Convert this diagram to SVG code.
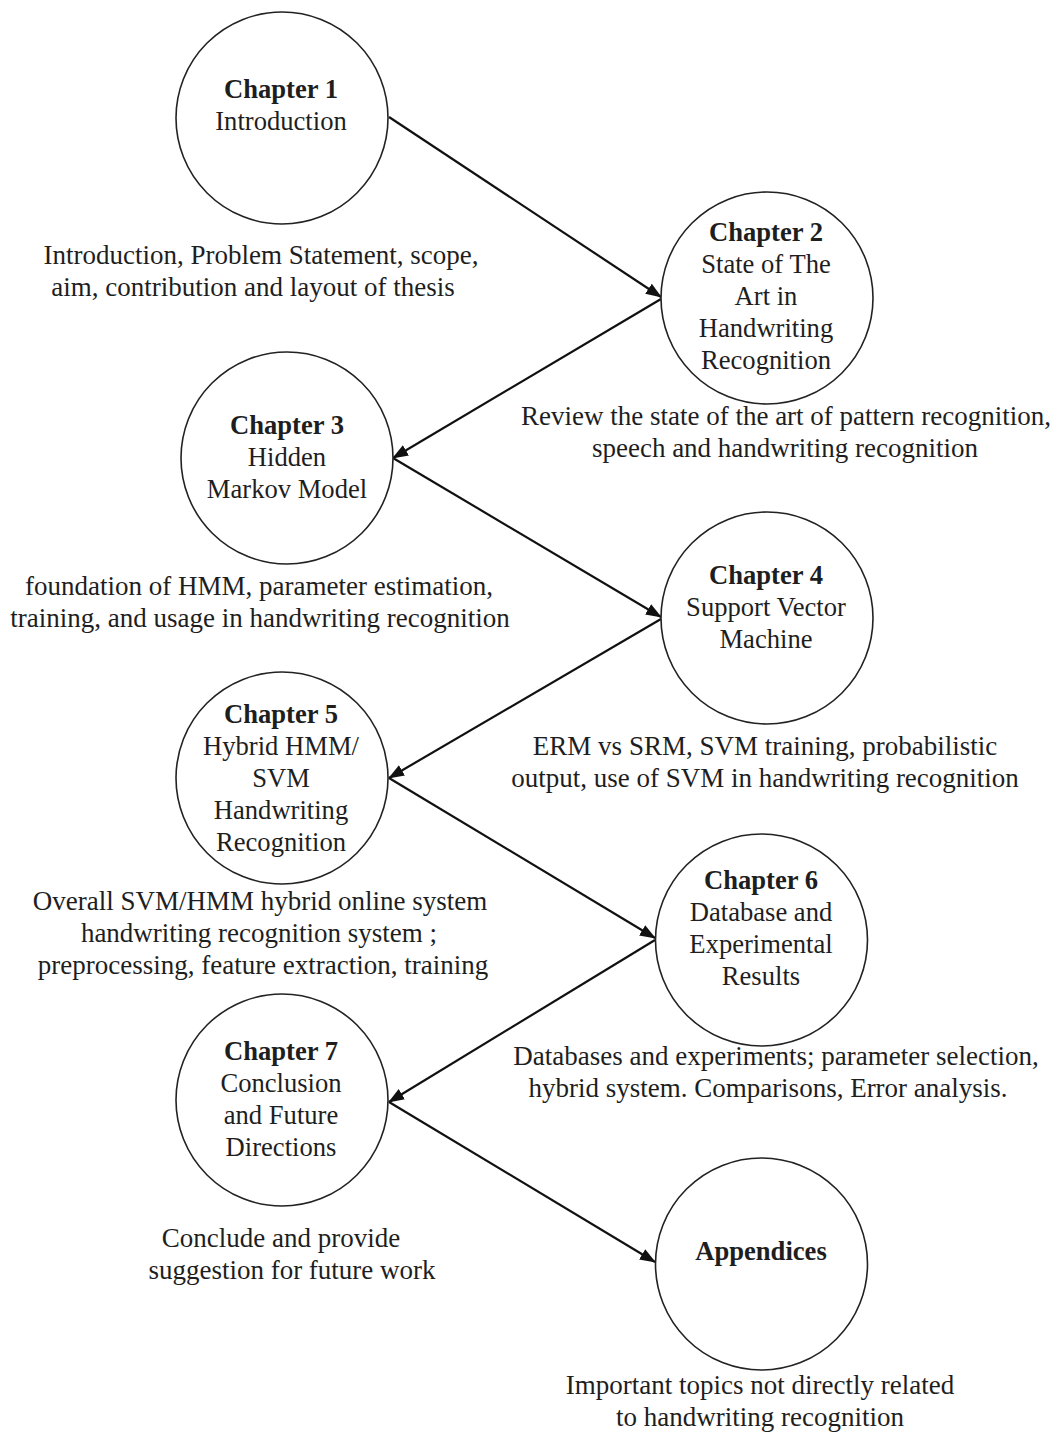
<svg xmlns="http://www.w3.org/2000/svg" width="1058" height="1432" viewBox="0 0 1058 1432">
<style>
.n{fill:#fff;stroke:#222;stroke-width:1.6}
text{font-family:"Liberation Serif","Times New Roman",serif;font-size:26.6px;fill:#1e1e1e;text-anchor:middle}
.b{font-weight:bold}
.d{font-size:27px}
.c{stroke:#111;stroke-width:2.2;fill:none;marker-end:url(#ah)}
</style>
<defs>
<marker id="ah" markerWidth="16" markerHeight="12" refX="15" refY="6" orient="auto" markerUnits="userSpaceOnUse">
<path d="M0,0 L16,6 L0,12 Z" fill="#111"/>
</marker>
</defs>
<rect width="1058" height="1432" fill="#fff"/>
<g id="connectors">
<line class="c" x1="389" y1="117" x2="661" y2="297"/>
<line class="c" x1="661" y1="299" x2="393" y2="458"/>
<line class="c" x1="393" y1="458" x2="661" y2="617"/>
<line class="c" x1="661" y1="619" x2="389" y2="778"/>
<line class="c" x1="389" y1="778" x2="655" y2="938"/>
<line class="c" x1="655" y1="940" x2="389" y2="1102"/>
<line class="c" x1="389" y1="1102" x2="655" y2="1262"/>
</g>
<g id="ch1">
<circle class="n" cx="282" cy="118" r="106"/>
<text class="b" x="281" y="98">Chapter 1</text>
<text x="281" y="130">Introduction</text>
<text class="d" x="261" y="264">Introduction, Problem Statement, scope,</text>
<text class="d" x="253" y="296">aim, contribution and layout of thesis</text>
</g>
<g id="ch2">
<circle class="n" cx="767" cy="298" r="106"/>
<text class="b" x="766" y="241">Chapter 2</text>
<text x="766" y="273">State of The</text>
<text x="766" y="305">Art in</text>
<text x="766" y="337">Handwriting</text>
<text x="766" y="369">Recognition</text>
<text class="d" x="786" y="425">Review the state of the art of pattern recognition,</text>
<text class="d" x="785" y="457">speech and handwriting recognition</text>
</g>
<g id="ch3">
<circle class="n" cx="287" cy="458" r="106"/>
<text class="b" x="287" y="434">Chapter 3</text>
<text x="287" y="466">Hidden</text>
<text x="287" y="498">Markov Model</text>
<text class="d" x="259" y="595">foundation of HMM, parameter estimation,</text>
<text class="d" x="260" y="627">training, and usage in handwriting recognition</text>
</g>
<g id="ch4">
<circle class="n" cx="767" cy="618" r="106"/>
<text class="b" x="766" y="584">Chapter 4</text>
<text x="766" y="616">Support Vector</text>
<text x="766" y="648">Machine</text>
<text class="d" x="765" y="755">ERM vs SRM, SVM training, probabilistic</text>
<text class="d" x="765" y="787">output, use of SVM in handwriting recognition</text>
</g>
<g id="ch5">
<circle class="n" cx="282" cy="778" r="106"/>
<text class="b" x="281" y="723">Chapter 5</text>
<text x="281" y="755">Hybrid HMM/</text>
<text x="281" y="787">SVM</text>
<text x="281" y="819">Handwriting</text>
<text x="281" y="851">Recognition</text>
<text class="d" x="260" y="910">Overall SVM/HMM hybrid online system</text>
<text class="d" x="259" y="942">handwriting recognition system ;</text>
<text class="d" x="263" y="974">preprocessing, feature extraction, training</text>
</g>
<g id="ch6">
<circle class="n" cx="761.5" cy="940" r="106"/>
<text class="b" x="761" y="889">Chapter 6</text>
<text x="761" y="921">Database and</text>
<text x="761" y="953">Experimental</text>
<text x="761" y="985">Results</text>
<text class="d" x="776" y="1065">Databases and experiments; parameter selection,</text>
<text class="d" x="768" y="1097">hybrid system. Comparisons, Error analysis.</text>
</g>
<g id="ch7">
<circle class="n" cx="282" cy="1100" r="106"/>
<text class="b" x="281" y="1060">Chapter 7</text>
<text x="281" y="1092">Conclusion</text>
<text x="281" y="1124">and Future</text>
<text x="281" y="1156">Directions</text>
<text class="d" x="281" y="1247">Conclude and provide</text>
<text class="d" x="292" y="1279">suggestion for future work</text>
</g>
<g id="appendices">
<circle class="n" cx="761.5" cy="1264" r="106"/>
<text class="b" x="761" y="1260">Appendices</text>
<text class="d" x="760" y="1394">Important topics not directly related</text>
<text class="d" x="760" y="1426">to handwriting recognition</text>
</g>
</svg>
